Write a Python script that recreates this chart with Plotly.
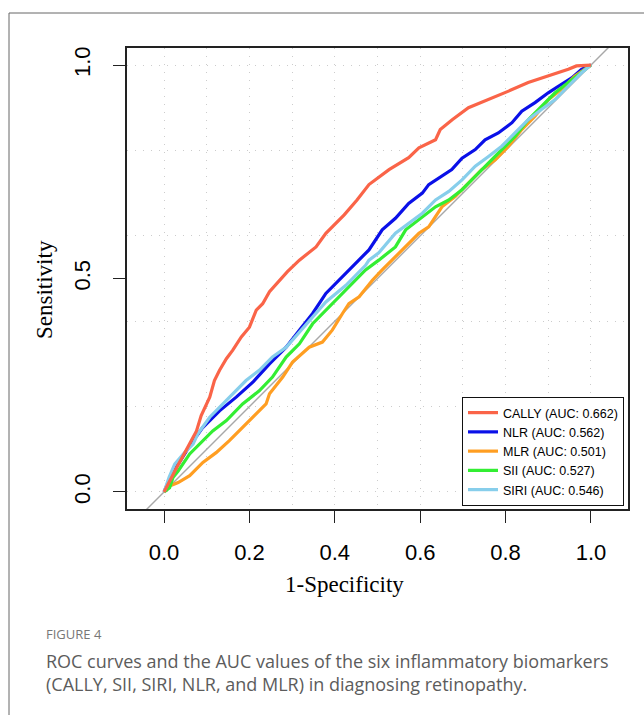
import plotly.graph_objects as go

# ---------------- data ----------------
cally_fpr = [0, 0.015, 0.03, 0.045, 0.058, 0.076, 0.087, 0.107, 0.118, 0.130, 0.146, 0.161, 0.181, 0.200,
             0.216, 0.231, 0.247, 0.270, 0.289, 0.317, 0.332, 0.356, 0.379, 0.422, 0.452, 0.480, 0.527,
             0.573, 0.597, 0.636, 0.647, 0.675, 0.713, 0.760, 0.807, 0.853, 0.900, 0.947, 0.966, 1.0]
cally_tpr = [0, 0.03, 0.058, 0.085, 0.11, 0.143, 0.179, 0.222, 0.261, 0.285, 0.312, 0.332, 0.363, 0.386,
             0.426, 0.441, 0.469, 0.496, 0.516, 0.543, 0.555, 0.574, 0.606, 0.649, 0.684, 0.720, 0.755,
             0.783, 0.806, 0.825, 0.849, 0.872, 0.900, 0.919, 0.939, 0.959, 0.974, 0.990, 0.998, 1.0]

nlr_fpr = [0, 0.015, 0.033, 0.06, 0.09, 0.130, 0.169, 0.208, 0.247, 0.286, 0.317, 0.348, 0.379, 0.402,
           0.441, 0.480, 0.511, 0.542, 0.573, 0.605, 0.620, 0.651, 0.674, 0.698, 0.729, 0.752, 0.783,
           0.815, 0.838, 0.869, 0.900, 0.931, 0.955, 0.978, 1.0]
nlr_tpr = [0, 0.035, 0.065, 0.108, 0.15, 0.190, 0.222, 0.257, 0.300, 0.339, 0.379, 0.418, 0.465, 0.488,
           0.527, 0.567, 0.614, 0.641, 0.676, 0.700, 0.720, 0.739, 0.755, 0.782, 0.802, 0.825, 0.841,
           0.865, 0.892, 0.912, 0.935, 0.955, 0.970, 0.990, 1.0]

mlr_fpr = [0, 0.013, 0.033, 0.06, 0.091, 0.122, 0.153, 0.184, 0.216, 0.239, 0.247, 0.278, 0.301, 0.340,
           0.371, 0.394, 0.418, 0.433, 0.457, 0.488, 0.511, 0.542, 0.573, 0.597, 0.620, 0.636, 0.651,
           0.682, 0.713, 0.744, 0.776, 0.807, 0.838, 0.869, 0.900, 0.931, 0.962, 1.0]
mlr_tpr = [0, 0.014, 0.022, 0.038, 0.069, 0.092, 0.120, 0.151, 0.183, 0.206, 0.230, 0.269, 0.304, 0.339,
           0.351, 0.379, 0.418, 0.441, 0.457, 0.496, 0.520, 0.551, 0.582, 0.606, 0.621, 0.645, 0.668,
           0.692, 0.723, 0.755, 0.778, 0.810, 0.849, 0.880, 0.919, 0.943, 0.974, 1.0]

sii_fpr = [0, 0.013, 0.021, 0.033, 0.06, 0.083, 0.114, 0.146, 0.184, 0.223, 0.254, 0.286, 0.317, 0.348,
           0.379, 0.410, 0.441, 0.472, 0.503, 0.542, 0.566, 0.597, 0.636, 0.667, 0.698, 0.729, 0.760,
           0.791, 0.822, 0.853, 0.884, 0.916, 0.947, 0.978, 1.0]
sii_tpr = [0, 0.01, 0.034, 0.049, 0.089, 0.112, 0.143, 0.167, 0.206, 0.237, 0.269, 0.316, 0.347, 0.394,
           0.426, 0.457, 0.488, 0.52, 0.543, 0.574, 0.614, 0.637, 0.668, 0.684, 0.708, 0.739, 0.770,
           0.802, 0.833, 0.872, 0.904, 0.935, 0.959, 0.982, 1.0]

siri_fpr = [0, 0.012, 0.025, 0.048, 0.068, 0.079, 0.107, 0.146, 0.192, 0.223, 0.254, 0.286, 0.317, 0.356,
            0.379, 0.426, 0.472, 0.480, 0.503, 0.542, 0.573, 0.605, 0.636, 0.667, 0.698, 0.729, 0.760,
            0.791, 0.822, 0.853, 0.884, 0.916, 0.947, 0.978, 1.0]
siri_tpr = [0, 0.035, 0.065, 0.092, 0.112, 0.136, 0.175, 0.214, 0.261, 0.285, 0.316, 0.339, 0.375, 0.418,
            0.445, 0.484, 0.531, 0.543, 0.560, 0.606, 0.629, 0.653, 0.684, 0.704, 0.731, 0.763, 0.786,
            0.810, 0.841, 0.872, 0.896, 0.919, 0.951, 0.982, 1.0]

series_names = ["CALLY (AUC: 0.662)", "NLR (AUC: 0.562)", "MLR (AUC: 0.501)",
                "SII (AUC: 0.527)", "SIRI (AUC: 0.546)"]
series_colors = ["#FA6448", "#0A10E8", "#FF9E22", "#33EE33", "#87CEEB"]

x_ticks = [0.0, 0.2, 0.4, 0.6, 0.8, 1.0]
x_ticktext = ["0.0", "0.2", "0.4", "0.6", "0.8", "1.0"]
y_ticks = [0.0, 0.5, 1.0]
y_ticktext = ["0.0", "0.5", "1.0"]
x_grid = [0.0, 0.1, 0.2, 0.3, 0.4, 0.5, 0.6, 0.7, 0.8, 0.9, 1.0]
y_grid = [0.0, 0.2, 0.4, 0.6, 0.8, 1.0]

caption_label = "FIGURE 4"
caption_text = ("ROC curves and the AUC values of the six inflammatory biomarkers<br>"
                "(CALLY, SII, SIRI, NLR, and MLR) in diagnosing retinopathy.")

# ---------------- layout geometry ----------------
W, H = 644, 715
L, R, T, B = 127, 628, 48, 509
XR = [-0.0868, 1.0868]
YR = [-0.04, 1.04]

fig = go.Figure()

# diagonal reference line y = x across the whole plotting range (on the base/grid axes)
lo, hi = min(XR[0], YR[0]), max(XR[1], YR[1])
fig.add_trace(go.Scatter(x=[lo, hi], y=[lo, hi],
                         mode="lines", line=dict(color="#A8A8A8", width=1.4),
                         showlegend=False, hoverinfo="skip", xaxis="x", yaxis="y"))

series = [(cally_fpr, cally_tpr), (nlr_fpr, nlr_tpr), (mlr_fpr, mlr_tpr),
          (sii_fpr, sii_tpr), (siri_fpr, siri_tpr)]
draw_order = [1, 2, 3, 4, 0]
for i in draw_order:
    fx, ty = series[i]
    fig.add_trace(go.Scatter(x=fx, y=ty, mode="lines", name=series_names[i],
                             line=dict(color=series_colors[i], width=3.2),
                             legendrank=i + 1, xaxis="x2", yaxis="y2"))

dom_x = [L / W, R / W]
dom_y = [1 - B / H, 1 - T / H]
tickfont = dict(family="Liberation Sans, Arial, sans-serif", size=22, color="#000")

fig.update_layout(
    width=W, height=H,
    margin=dict(l=0, r=0, t=0, b=0, autoexpand=False),
    paper_bgcolor="white", plot_bgcolor="white",
    xaxis=dict(domain=dom_x, range=XR, tickmode="array", tickvals=x_grid,
               showticklabels=False, ticks="", showgrid=True, gridcolor="#CCCCCC",
               griddash="1px,7px", gridwidth=1, zeroline=False,
               showline=True, mirror=True, linecolor="#222", linewidth=1.5),
    yaxis=dict(domain=dom_y, range=YR, tickmode="array", tickvals=y_grid,
               showticklabels=False, ticks="", showgrid=True, gridcolor="#CCCCCC",
               griddash="1px,7px", gridwidth=1, zeroline=False,
               showline=True, mirror=True, linecolor="#222", linewidth=1.5),
    xaxis2=dict(overlaying="x", anchor="y2", side="bottom", range=XR, domain=dom_x,
                tickmode="array", tickvals=x_ticks, ticktext=x_ticktext,
                ticks="outside", ticklen=13, tickwidth=1.3, tickcolor="#222",
                ticklabelstandoff=11, tickfont=tickfont,
                showgrid=False, zeroline=False, showline=False),
    yaxis2=dict(overlaying="y", anchor="x2", side="left", range=YR, domain=dom_y,
                tickmode="array", tickvals=y_ticks, ticktext=y_ticktext,
                ticks="outside", ticklen=13, tickwidth=1.3, tickcolor="#222",
                tickangle=-90, ticklabelstandoff=14, tickfont=tickfont,
                showgrid=False, zeroline=False, showline=False),
    legend=dict(x=462 / W, y=1 - 397 / H, xanchor="left", yanchor="top",
                bgcolor="white", bordercolor="#111", borderwidth=1,
                font=dict(family="Liberation Sans, Arial, sans-serif", size=12.5, color="#000"),
                itemwidth=30, tracegroupgap=0),
    showlegend=True,
)

# axis titles
fig.add_annotation(text="1-Specificity", xref="paper", yref="paper",
                   x=344 / W, y=1 - 584 / H, xanchor="center", yanchor="middle",
                   showarrow=False,
                   font=dict(family="Liberation Serif, Times New Roman, serif", size=23, color="#000"))
fig.add_annotation(text="Sensitivity", xref="paper", yref="paper",
                   x=44 / W, y=1 - 290 / H, xanchor="center", yanchor="middle",
                   textangle=-90, showarrow=False,
                   font=dict(family="Liberation Serif, Times New Roman, serif", size=23, color="#000"))

# caption
fig.add_annotation(text=caption_label, xref="paper", yref="paper",
                   x=44 / W, y=1 - 634 / H, xanchor="left", yanchor="middle", showarrow=False,
                   font=dict(family="Open Sans, sans-serif", size=13, color="#777"))
fig.add_annotation(text=caption_text, xref="paper", yref="paper",
                   x=44 / W, y=1 - 672 / H, xanchor="left", yanchor="middle", showarrow=False,
                   align="left",
                   font=dict(family="Open Sans, sans-serif", size=18, color="#5c5c5c"))

# outer figure frame (page decoration)
fig.add_shape(type="line", xref="paper", yref="paper", x0=9 / W, x1=9 / W, y0=0, y1=1 - 13 / H,
              line=dict(color="#666", width=1))
fig.add_shape(type="line", xref="paper", yref="paper", x0=9 / W, x1=1, y0=1 - 13 / H, y1=1 - 13 / H,
              line=dict(color="#666", width=1))

fig.write_html("out.html", config={"displayModeBar": False},
               post_script="document.body.style.margin='0px';document.body.style.padding='0px';")
